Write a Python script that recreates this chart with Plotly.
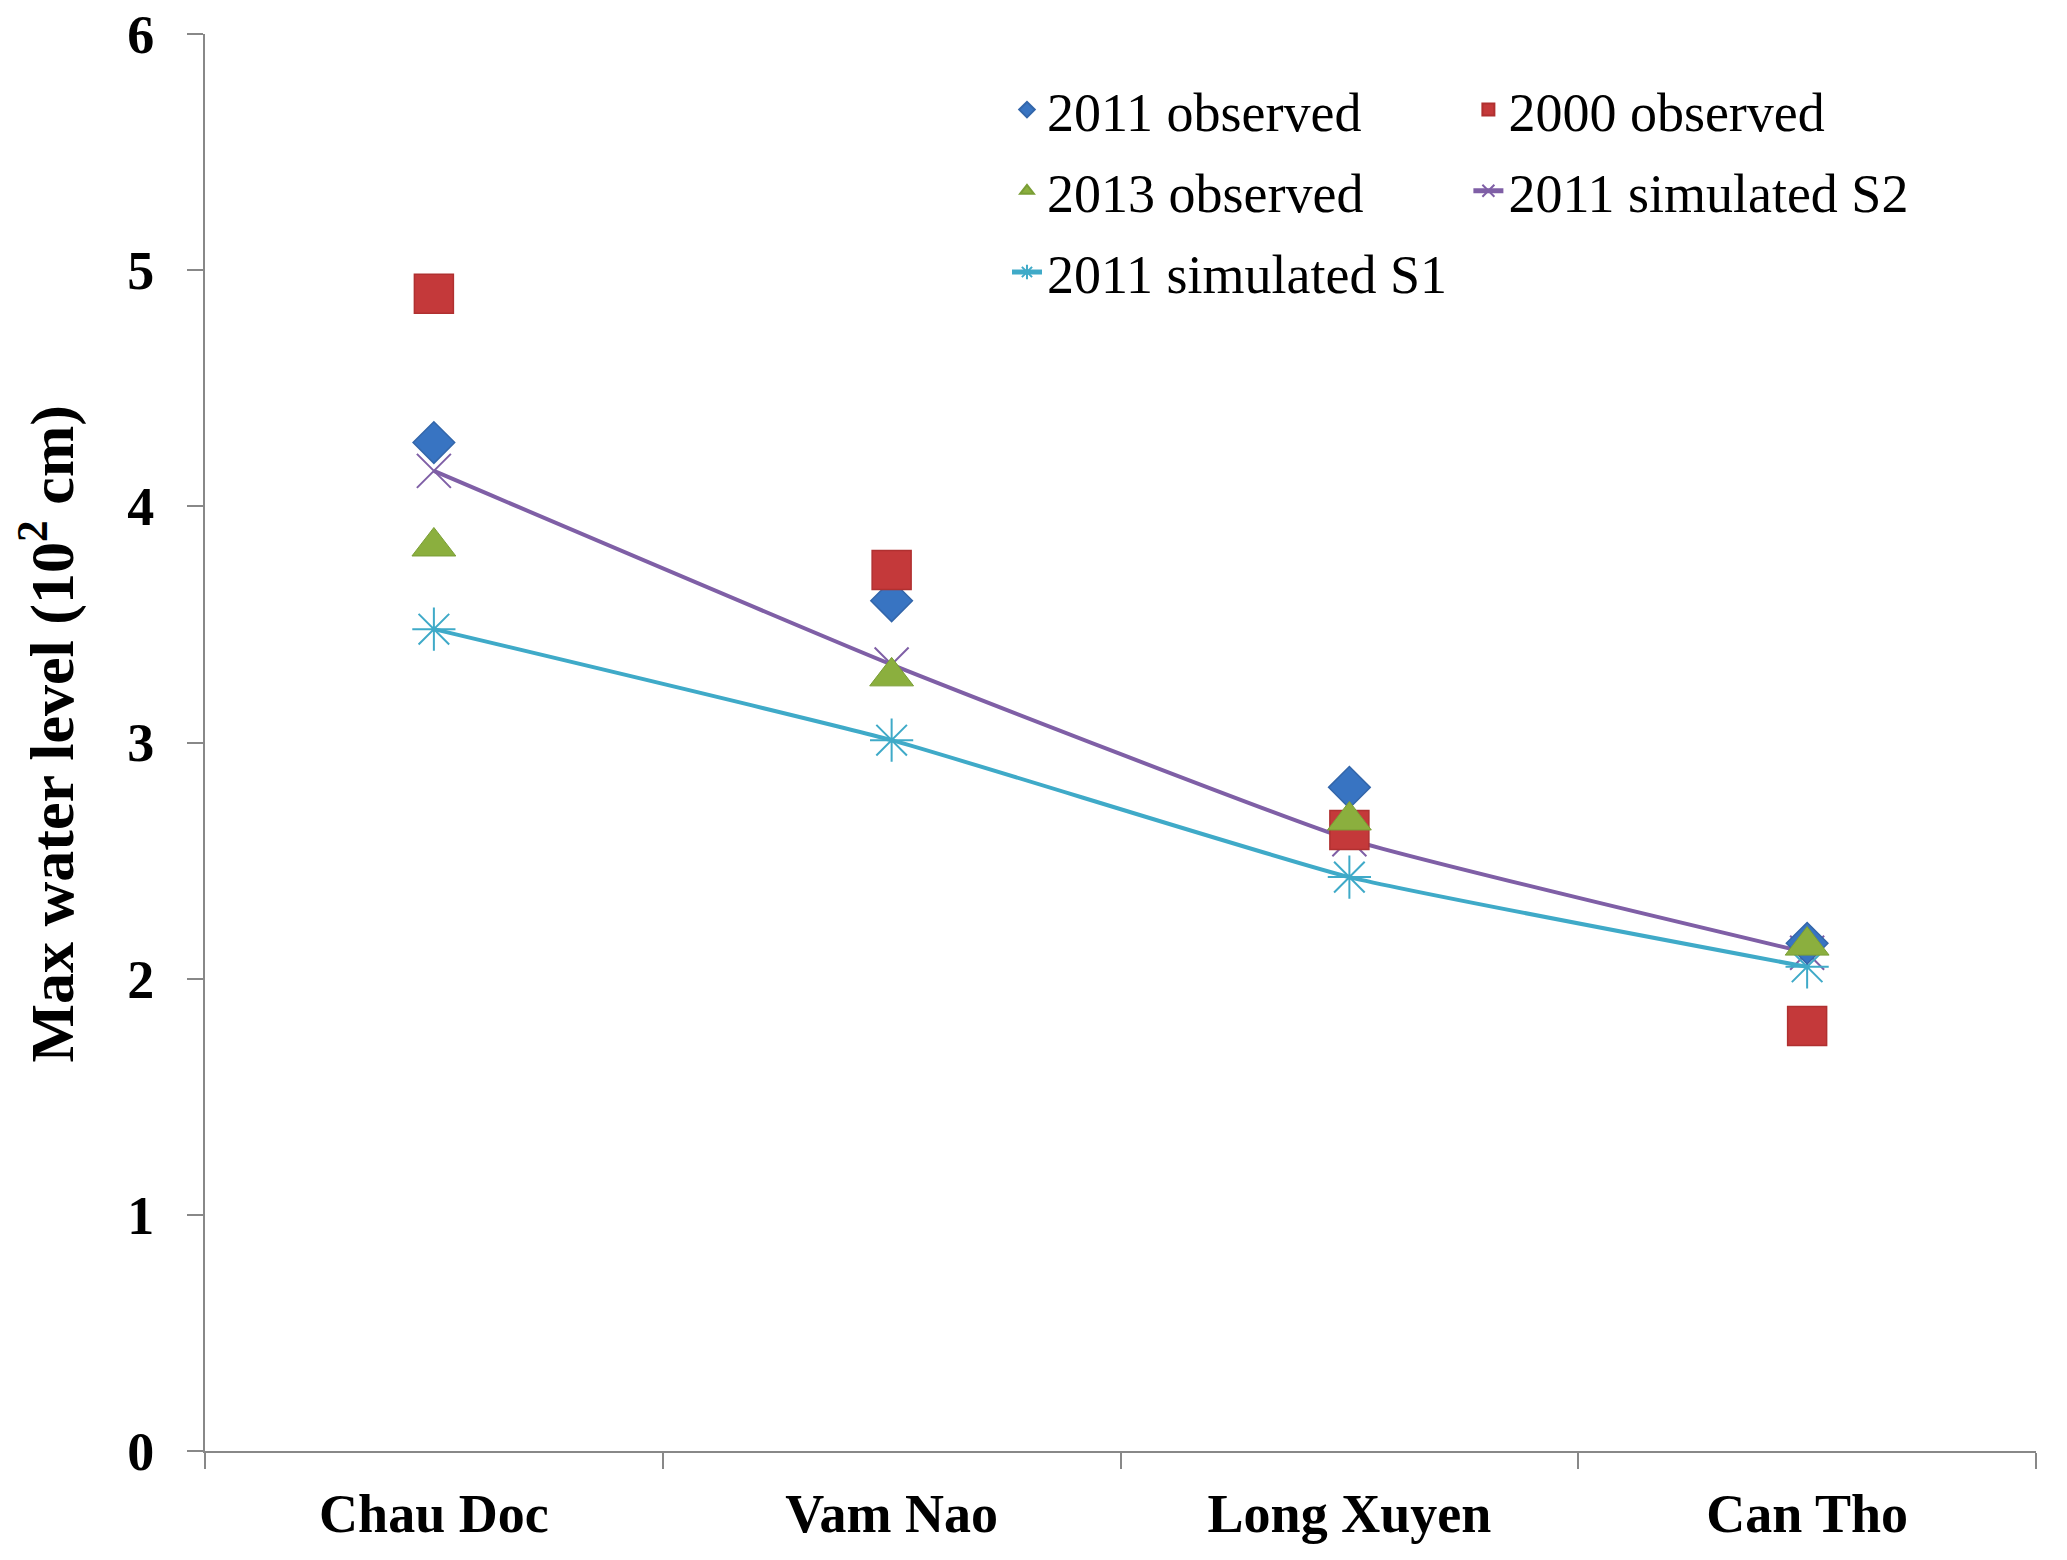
import plotly.graph_objects as go

stations = ["Chau Doc", "Vam Nao", "Long Xuyen", "Can Tho"]
obs_2011 = [4.27, 3.60, 2.81, 2.15]
obs_2000 = [4.90, 3.73, 2.63, 1.80]
obs_2013 = [3.83, 3.28, 2.67, 2.14]
sim_s2 = [4.15, 3.33, 2.59, 2.11]
sim_s1 = [3.48, 3.01, 2.43, 2.05]
y_ticks = [0, 1, 2, 3, 4, 5, 6]
y_title = "Max water level (10<sup>2</sup> cm)"

FONT = "Liberation Serif"
FS = 54

fig = go.Figure()

fig.add_trace(go.Scatter(
    x=stations, y=sim_s2, name="2011 simulated S2", mode="lines+markers",
    line=dict(color="#7F5FA6", width=4, shape="spline", smoothing=0.4),
    marker=dict(symbol="x-thin-open", size=34, color="#7F5FA6", line=dict(width=2, color="#7F5FA6")),
    legend="legend2", legendgroup="s2", legendrank=2))
fig.add_trace(go.Scatter(
    x=stations, y=sim_s1, name="2011 simulated S1", mode="lines+markers",
    line=dict(color="#3FAAC8", width=4, shape="spline", smoothing=0.4),
    marker=dict(symbol="asterisk-open", size=36, color="#3FAAC8", line=dict(width=2, color="#3FAAC8")),
    legend="legend", legendgroup="s1", legendrank=3))
fig.add_trace(go.Scatter(
    x=stations, y=obs_2011, name="2011 observed", mode="markers",
    marker=dict(symbol="diamond", size=32, color="#3874C2", line=dict(width=1.5, color="#3366AA")),
    legend="legend", legendgroup="o2011", legendrank=1))
fig.add_trace(go.Scatter(
    x=stations, y=obs_2000, name="2000 observed", mode="markers",
    marker=dict(symbol="square", size=39, color="#C4393A", line=dict(width=1.5, color="#B03030")),
    legend="legend2", legendgroup="o2000", legendrank=1))
fig.add_trace(go.Scatter(
    x=stations, y=obs_2013, name="2013 observed", mode="markers",
    marker=dict(symbol="triangle-up", size=38, color="#8BAF3E", line=dict(width=1, color="#7A9E35")),
    legend="legend", legendgroup="o2013", legendrank=2))

legend_common = dict(
    font=dict(family=FONT, size=FS, color="black"),
    bgcolor="rgba(0,0,0,0)", tracegroupgap=8,
    orientation="v", xanchor="left", yanchor="top", itemsizing="constant",
    traceorder="grouped",
)

fig.update_layout(
    width=2067, height=1560,
    margin=dict(l=197, r=39, t=26, b=117, autoexpand=False),
    paper_bgcolor="white", plot_bgcolor="white",
    font=dict(family=FONT, size=FS, color="black"),
    showlegend=True,
    legend=dict(x=0.438, y=0.976, **legend_common),
    legend2=dict(x=0.690, y=0.976, **legend_common),
    xaxis=dict(
        type="category", categoryorder="array", categoryarray=stations,
        range=[-0.5, 3.5], showline=True, linecolor="#888888", linewidth=2,
        ticks="outside", tickson="boundaries", ticklen=16, tickwidth=1.5, tickcolor="#888888",
        showgrid=False, zeroline=False, automargin=False,
        tickfont=dict(family=FONT, size=FS, color="black", weight="bold"),
        ticklabelstandoff=14, ticklabeloverflow="allow",
    ),
    yaxis=dict(
        range=[0, 6], tickvals=y_ticks, ticktext=[str(v) for v in y_ticks],
        showline=True, linecolor="#888888", linewidth=2,
        ticks="outside", ticklen=16, tickwidth=1.5, tickcolor="#888888",
        showgrid=False, zeroline=False, automargin=False,
        tickfont=dict(family=FONT, size=FS, color="black", weight="bold"),
        ticklabelstandoff=22, ticklabeloverflow="allow",
    ),
    annotations=[dict(
        text=y_title, textangle=-90, showarrow=False,
        xref="paper", yref="paper", x=-0.086, y=0.506,
        xanchor="center", yanchor="middle",
        font=dict(family=FONT, size=62, color="black", weight="bold"),
    )],
)

fig.write_html("out.html")
